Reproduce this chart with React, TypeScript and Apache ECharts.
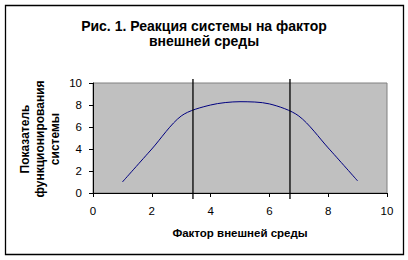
import React, { useEffect, useRef } from "react";
import * as echarts from "echarts";

const titleLines = ["Рис. 1. Реакция системы на фактор", "внешней среды"];
const xAxisName = "Фактор внешней среды";
const yAxisNameLines = ["Показатель", "функционирования", "системы"];
const xValues = [1, 2, 3, 4, 5, 6, 7, 8, 9];
const yValues = [1, 4, 7, 8, 8.3, 8.1, 7, 4.1, 1.1];
const boundaryX = [3.4, 6.7];
const axisMin = 0;
const axisMax = 10;
const axisInterval = 2;

const FONT = '"Liberation Sans", Arial, sans-serif';

export default function App() {
  const ref = useRef<HTMLDivElement>(null);
  useEffect(() => {
    if (!ref.current) return;
    const chart = echarts.init(ref.current, null, { renderer: "svg" });
    chart.setOption({
      animation: false,
      backgroundColor: "#ffffff",
      title: {
        text: titleLines.join("\n"),
        left: "center",
        top: 13,
        textStyle: {
          fontFamily: FONT,
          fontSize: 14,
          fontWeight: "bold",
          color: "#000",
          lineHeight: 15,
        },
      },
      graphic: [
        {
          type: "rect",
          shape: { x: 5.5, y: 5.5, width: 398, height: 249 },
          style: { fill: "none", stroke: "#000", lineWidth: 1.3 },
          silent: true,
        },
        {
          type: "text",
          x: 40,
          y: 139,
          rotation: Math.PI / 2,
          silent: true,
          style: {
            text: yAxisNameLines.join("\n"),
            fontFamily: FONT,
            fontSize: 12,
            fontWeight: "bold",
            fill: "#000",
            lineHeight: 15,
            align: "center",
            verticalAlign: "middle",
          },
        },
      ],
      grid: {
        left: 93,
        right: 21,
        top: 83,
        bottom: 67,
        show: true,
        backgroundColor: "#C0C0C0",
        borderColor: "#808080",
        borderWidth: 1,
      },
      xAxis: {
        type: "value",
        min: axisMin,
        max: axisMax,
        interval: axisInterval,
        name: xAxisName,
        nameLocation: "middle",
        nameGap: 34,
        nameTextStyle: { fontFamily: FONT, fontSize: 11.5, fontWeight: "bold", color: "#000" },
        axisLine: { show: true, lineStyle: { color: "#000", width: 1 } },
        axisTick: { show: true, inside: false, length: 4, lineStyle: { color: "#000" } },
        axisLabel: { fontFamily: FONT, fontSize: 11.5, color: "#000", margin: 12 },
        splitLine: { show: false },
      },
      yAxis: {
        type: "value",
        min: axisMin,
        max: axisMax,
        interval: axisInterval,
        axisLine: { show: true, lineStyle: { color: "#000", width: 1 } },
        axisTick: { show: true, inside: false, length: 4, lineStyle: { color: "#000" } },
        axisLabel: { fontFamily: FONT, fontSize: 11.5, color: "#000", margin: 11 },
        splitLine: { show: false },
      },
      series: [
        {
          type: "line",
          data: xValues.map((x, i) => [x, yValues[i]]),
          smooth: 0.3,
          showSymbol: false,
          symbol: "none",
          lineStyle: { color: "#000080", width: 1 },
          z: 3,
        },
        {
          type: "custom",
          clip: false,
          z: 4,
          data: boundaryX.map((x) => [x]),
          renderItem: (params: any, api: any) => {
            const x = api.value(0);
            const top = api.coord([x, axisMax]);
            const bottom = api.coord([x, axisMin]);
            return {
              type: "line",
              shape: { x1: top[0], y1: top[1] - 4, x2: bottom[0], y2: bottom[1] + 6 },
              style: { stroke: "#000", lineWidth: 1.3 },
            };
          },
        },
      ],
    });
    return () => chart.dispose();
  }, []);
  return (
    <div
      ref={ref}
      style={{ position: "fixed", left: 0, top: 0, width: 408, height: 260 }}
    />
  );
}
